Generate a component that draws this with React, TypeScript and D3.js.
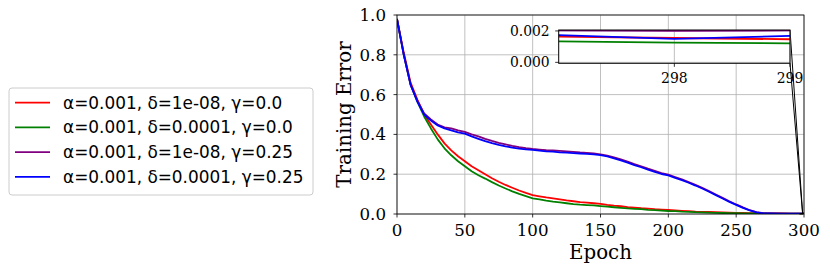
import React from "react";
import * as d3 from "d3";

const epochs = [0,5,10,15,20,25,30,35,40,45,50,55,60,65,70,75,80,85,90,95,100,105,110,115,120,125,130,135,140,145,150,155,160,165,170,175,180,185,190,195,200,205,210,215,220,225,230,235,240,245,250,255,260,265,270,275,280,285,290,295,297,298,299,300];

const redVals = [0.98,0.81,0.66,0.575,0.5,0.45,0.4,0.355,0.32,0.29,0.265,0.24,0.22,0.2,0.18,0.162,0.146,0.132,0.118,0.106,0.095,0.089,0.083,0.078,0.073,0.068,0.064,0.06,0.057,0.054,0.051,0.046,0.042,0.039,0.035,0.032,0.029,0.027,0.024,0.022,0.02,0.018,0.016,0.014,0.012,0.011,0.01,0.009,0.008,0.007,0.006,0.005,0.0045,0.004,0.0035,0.003,0.0027,0.0024,0.0021,0.0018,0.00164,0.00155,0.00147,0.00147];
const greenVals = [0.98,0.8,0.65,0.565,0.49,0.43,0.375,0.33,0.295,0.265,0.24,0.215,0.195,0.178,0.16,0.143,0.128,0.114,0.101,0.09,0.079,0.073,0.067,0.062,0.058,0.054,0.05,0.047,0.045,0.043,0.04,0.037,0.034,0.031,0.028,0.026,0.024,0.021,0.019,0.017,0.015,0.014,0.012,0.011,0.009,0.008,0.007,0.006,0.005,0.0045,0.004,0.0035,0.003,0.0027,0.0024,0.0021,0.0019,0.0017,0.0015,0.0014,0.00134,0.00126,0.00121,0.00121];
const purpleVals = [0.98,0.8,0.65,0.57,0.505,0.475,0.45,0.435,0.43,0.42,0.413,0.4,0.39,0.378,0.367,0.358,0.35,0.342,0.336,0.331,0.327,0.324,0.321,0.319,0.317,0.315,0.312,0.309,0.307,0.304,0.3,0.293,0.284,0.274,0.263,0.251,0.24,0.228,0.217,0.206,0.198,0.186,0.174,0.16,0.146,0.131,0.115,0.098,0.081,0.064,0.048,0.033,0.019,0.009,0.004,0.0028,0.0024,0.0022,0.0021,0.00205,0.00203,0.00201,0.00203,0.00203];
const blueVals = [0.98,0.8,0.65,0.565,0.5,0.47,0.445,0.43,0.42,0.41,0.404,0.39,0.378,0.366,0.356,0.347,0.34,0.334,0.329,0.325,0.322,0.318,0.315,0.313,0.31,0.308,0.306,0.304,0.302,0.3,0.296,0.289,0.28,0.269,0.258,0.246,0.235,0.223,0.212,0.201,0.194,0.182,0.17,0.157,0.143,0.128,0.112,0.095,0.078,0.061,0.046,0.031,0.018,0.008,0.0035,0.0025,0.0021,0.0019,0.0018,0.00178,0.00174,0.00149,0.00168,0.00168];

const seriesLabels = [
  "α=0.001, δ=1e-08, γ=0.0",
  "α=0.001, δ=0.0001, γ=0.0",
  "α=0.001, δ=1e-08, γ=0.25",
  "α=0.001, δ=0.0001, γ=0.25",
];
const seriesColors = ["#ff0000", "#008000", "#800080", "#0000ff"];
const seriesValues = [redVals, greenVals, purpleVals, blueVals];

const xTicks = [0, 50, 100, 150, 200, 250, 300];
const yTicks = [0, 0.2, 0.4, 0.6, 0.8, 1.0];
const insetXTicks = [298, 299];
const insetYTicks = [0, 0.002];

const serif = "'DejaVu Serif', serif";
const sans = "'DejaVu Sans', sans-serif";

export default function App() {
  const W = 830, H = 272;
  const L = 397, R = 804, T = 15, B = 214;
  const x = d3.scaleLinear().domain([0, 300]).range([L, R]);
  const y = d3.scaleLinear().domain([0, 1]).range([B, T]);

  const iL = 558.7, iR = 790, iT = 30, iB = 63.3;
  const ix = d3.scaleLinear().domain([297, 299]).range([iL, iR]);
  const iy = d3.scaleLinear().domain([-0.00006, 0.00206]).range([iB, iT]);

  const mainLine = (vals: number[]) =>
    d3.line<number>().x((_, i) => x(epochs[i])).y((v) => y(v))(vals) || "";
  const insetLine = (vals: number[]) =>
    d3.line<number>().x((_, i) => ix(epochs[i])).y((v) => iy(v))(vals) || "";

  const rx0 = x(297), rx1 = x(299);
  const ry0 = y(-0.00006), ry1 = y(0.00206);

  const legendX = 9, legendY = 88, legendW = 304, legendH = 107;
  const rowY = [102.7, 127.4, 152.1, 176.8];

  return (
    <svg width={W} height={H} style={{ position: "absolute", left: 0, top: 0 }}>
      <defs>
        <clipPath id="mainClip"><rect x={L} y={T} width={R - L} height={B - T} /></clipPath>
        <clipPath id="insetClip"><rect x={iL} y={iT} width={iR - iL} height={iB - iT} /></clipPath>
      </defs>
      <rect x={0} y={0} width={W} height={H} fill="#fff" />
      {xTicks.map((t) => (
        <line key={"gx" + t} x1={x(t)} x2={x(t)} y1={T} y2={B} stroke="#b0b0b0" strokeWidth={0.8} />
      ))}
      {yTicks.map((t) => (
        <line key={"gy" + t} x1={L} x2={R} y1={y(t)} y2={y(t)} stroke="#b0b0b0" strokeWidth={0.8} />
      ))}
      <g clipPath="url(#mainClip)">
        {seriesValues.map((vals, k) => (
          <path key={"m" + k} d={mainLine(vals)} fill="none" stroke={seriesColors[k]} strokeWidth={1.8} strokeLinejoin="round" />
        ))}
      </g>
      <rect x={L} y={T} width={R - L} height={B - T} fill="none" stroke="#000" strokeWidth={0.8} />
      {xTicks.map((t) => (
        <g key={"tx" + t}>
          <line x1={x(t)} x2={x(t)} y1={B} y2={B + 3.5} stroke="#000" strokeWidth={0.8} />
          <text x={x(t)} y={236} textAnchor="middle" fontFamily={serif} fontSize={16.67} fill="#000">{t}</text>
        </g>
      ))}
      {yTicks.map((t) => (
        <g key={"ty" + t}>
          <line x1={L - 3.5} x2={L} y1={y(t)} y2={y(t)} stroke="#000" strokeWidth={0.8} />
          <text x={L - 11} y={y(t)} dy="0.36em" textAnchor="end" fontFamily={serif} fontSize={16.67} fill="#000">{t.toFixed(1)}</text>
        </g>
      ))}
      <text x={(L + R) / 2} y={259} textAnchor="middle" fontFamily={serif} fontSize={19.8} fill="#000">Epoch</text>
      <text transform={`translate(351,${(T + B) / 2}) rotate(-90)`} textAnchor="middle" fontFamily={serif} fontSize={19.8} fill="#000">Training Error</text>

      <rect x={rx0} y={ry1} width={rx1 - rx0} height={ry0 - ry1} fill="none" stroke="#000" strokeWidth={1} />
      <line x1={iR} y1={iT} x2={rx1} y2={ry1} stroke="#000" strokeWidth={1} />
      <line x1={iR} y1={iB} x2={rx1} y2={ry0} stroke="#000" strokeWidth={1} />

      <rect x={iL} y={iT} width={iR - iL} height={iB - iT} fill="#fff" />
      {insetXTicks.map((t) => (
        <line key={"igx" + t} x1={ix(t)} x2={ix(t)} y1={iT} y2={iB} stroke="#b0b0b0" strokeWidth={0.8} />
      ))}
      {insetYTicks.map((t) => (
        <line key={"igy" + t} x1={iL} x2={iR} y1={iy(t)} y2={iy(t)} stroke="#b0b0b0" strokeWidth={0.8} />
      ))}
      <g clipPath="url(#insetClip)">
        {seriesValues.map((vals, k) => (
          <path key={"i" + k} d={insetLine(vals)} fill="none" stroke={seriesColors[k]} strokeWidth={1.8} />
        ))}
      </g>
      <rect x={iL} y={iT} width={iR - iL} height={iB - iT} fill="none" stroke="#000" strokeWidth={1} />
      {insetXTicks.map((t) => (
        <g key={"itx" + t}>
          <line x1={ix(t)} x2={ix(t)} y1={iB} y2={iB + 3.5} stroke="#000" strokeWidth={0.8} />
          <text x={ix(t)} y={83} textAnchor="middle" fontFamily={serif} fontSize={13.9} fill="#000">{t}</text>
        </g>
      ))}
      {insetYTicks.map((t) => (
        <g key={"ity" + t}>
          <line x1={iL - 3.5} x2={iL} y1={iy(t)} y2={iy(t)} stroke="#000" strokeWidth={0.8} />
          <text x={iL - 9} y={iy(t)} dy="0.36em" textAnchor="end" fontFamily={serif} fontSize={13.9} fill="#000">{t.toFixed(3)}</text>
        </g>
      ))}

      <rect x={legendX} y={legendY} width={legendW} height={legendH} rx={3} fill="#fff" stroke="#cccccc" strokeWidth={1} />
      {seriesLabels.map((lab, k) => (
        <g key={"lg" + k}>
          <line x1={15} x2={50} y1={rowY[k]} y2={rowY[k]} stroke={seriesColors[k]} strokeWidth={1.8} />
          <text x={63} y={rowY[k]} dy="0.36em" fontFamily={sans} fontSize={16.9} fill="#000">{lab}</text>
        </g>
      ))}
    </svg>
  );
}
